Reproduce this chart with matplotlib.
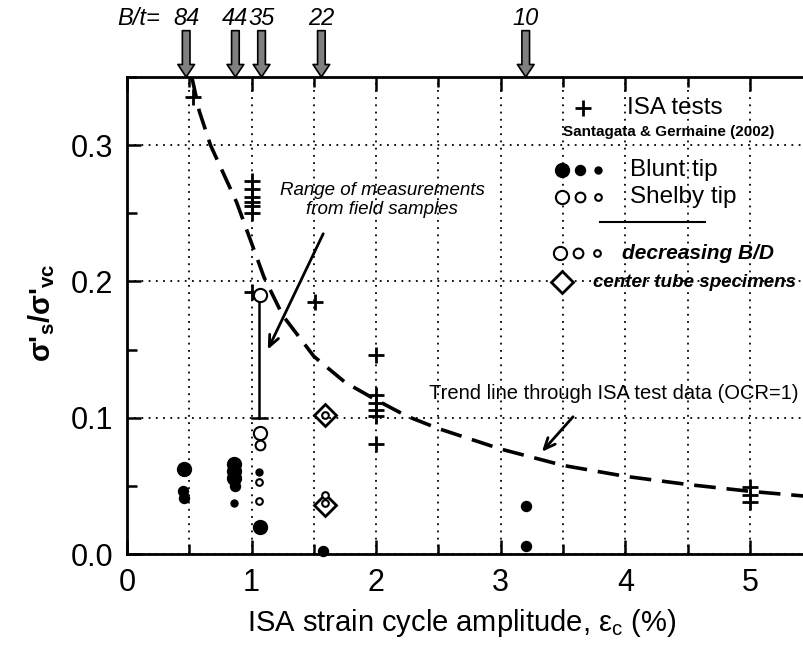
import matplotlib
matplotlib.use("Agg")
import matplotlib.pyplot as plt
from matplotlib.ticker import MultipleLocator, FormatStrFormatter

plt.rcParams['font.family'] = ['Liberation Sans', 'DejaVu Sans']
plt.rcParams['mathtext.fontset'] = 'custom'
plt.rcParams['mathtext.rm'] = 'Liberation Sans'
plt.rcParams['mathtext.it'] = 'Liberation Sans:italic'
plt.rcParams['mathtext.bf'] = 'Liberation Sans:bold'

# ISA tests (Santagata & Germaine 2002)
isa_x = [0.53, 1.0, 1.0, 1.0, 1.0, 1.0, 1.0, 1.0, 1.51,
         2.0, 2.0, 2.0, 2.0, 2.0, 2.0, 5.0, 5.0, 5.0]
isa_y = [0.335, 0.274, 0.268, 0.262, 0.258, 0.255, 0.250, 0.192, 0.185,
         0.146, 0.117, 0.111, 0.106, 0.101, 0.081, 0.049, 0.043, 0.038]

# Blunt tip (filled), size class L/M/S
blunt_x = [0.46, 0.45, 0.46, 0.86, 0.86, 0.86, 0.87, 0.86, 1.06, 1.07, 1.57, 3.2, 3.2]
blunt_y = [0.0625, 0.046, 0.041, 0.066, 0.061, 0.056, 0.050, 0.0375, 0.060, 0.020, 0.002, 0.035, 0.006]
blunt_size = ['L', 'M', 'M', 'L', 'L', 'L', 'M', 'S', 'S', 'L', 'M', 'M', 'M']

# Shelby tip (open)
shelby_x = [1.07, 1.07, 1.07, 1.06, 1.06, 1.59, 1.59, 1.59]
shelby_y = [0.19, 0.089, 0.080, 0.053, 0.039, 0.102, 0.043, 0.0375]
shelby_size = ['L', 'L', 'M', 'S', 'S', 'S', 'S', 'S']

# center tube specimens
center_x = [1.59, 1.59]
center_y = [0.102, 0.036]

# range of field measurements
range_x = 1.06
range_lo = 0.10
range_hi = 0.19

# trend line through ISA test data
trend_x = [0.52, 0.58, 0.67, 0.78, 0.88, 1.0, 1.1, 1.25, 1.5, 1.75, 2.0,
           2.25, 2.5, 3.0, 3.5, 4.0, 4.5, 5.0, 5.5, 6.0]
trend_y = [0.350, 0.325, 0.300, 0.278, 0.258, 0.228, 0.203, 0.175, 0.145, 0.126, 0.113,
           0.101, 0.092, 0.077, 0.065, 0.057, 0.051, 0.046, 0.042, 0.039]

# B/t markers along the top
bt_labels = ['84', '44', '35', '22', '10']
bt_x = [0.475, 0.87, 1.08, 1.56, 3.2]

filled_ms = {'L': 10, 'M': 7.2, 'S': 5}
open_ms = {'L': 9.5, 'M': 7, 'S': 4.8}

fig = plt.figure(figsize=(8.04, 6.58), dpi=100)
ax = fig.add_axes([127 / 804, 104 / 658, 747.6 / 804, 477 / 658])

ax.set_xlim(0, 6)
ax.set_ylim(0, 0.35)

# grid
ax.set_xticks([0, 1, 2, 3, 4, 5])
ax.xaxis.set_minor_locator(MultipleLocator(0.5))
ax.yaxis.set_major_locator(MultipleLocator(0.1))
ax.yaxis.set_minor_locator(MultipleLocator(0.05))
ax.yaxis.set_major_formatter(FormatStrFormatter('%.1f'))
ax.grid(which='major', ls=(0, (1, 3)), color='k', lw=1.3)
ax.grid(which='minor', axis='x', ls=(0, (1, 3)), color='k', lw=1.3)
ax.set_axisbelow(True)

ax.tick_params(which='both', direction='in', top=True, right=False, width=1.8)
ax.tick_params(which='major', length=10, labelsize=22, pad=10)
ax.tick_params(which='minor', length=7)
for sp in ax.spines.values():
    sp.set_linewidth(2)

# trend line
ax.plot(trend_x, trend_y, color='k', lw=2.6, ls=(0, (6, 3)), zorder=3)

# range line
ax.plot([range_x, range_x], [range_lo, range_hi], color='k', lw=1.8, zorder=3)
ax.plot([range_x - 0.06, range_x + 0.06], [range_lo, range_lo], color='k', lw=1.8, zorder=3)

# ISA tests
ax.plot(isa_x, isa_y, '+', color='k', ms=12, mew=2, zorder=4)

for x, y, s in zip(blunt_x, blunt_y, blunt_size):
    ax.plot(x, y, 'o', color='k', ms=filled_ms[s], zorder=4, clip_on=False)

for x, y, s in zip(shelby_x, shelby_y, shelby_size):
    ax.plot(x, y, 'o', mfc='white', mec='k', mew=1.5, ms=open_ms[s], zorder=5)

ax.plot(center_x, center_y, 'D', mfc='none', mec='k', mew=2, ms=11, zorder=4)

# B/t arrows along the top
ax.text(0.09, 0.393, 'B/t=', fontsize=17, style='italic', ha='center', va='center')
for lab, bx in zip(bt_labels, bt_x):
    ax.annotate('', xy=(bx, 0.35), xytext=(bx, 0.384), annotation_clip=False,
                arrowprops=dict(arrowstyle='simple,head_length=0.9,head_width=1.2,tail_width=0.55',
                                fc='0.5', ec='k', lw=1.2, shrinkA=0, shrinkB=0,
                                mutation_scale=10))
    ax.text(bx, 0.393, lab, fontsize=17, style='italic', ha='center', va='center')

# annotations
ax.text(2.05, 0.26, 'Range of measurements\nfrom field samples',
        fontsize=13.5, style='italic', ha='center', va='center', linespacing=1.15)
ax.annotate('', xy=(1.13, 0.150), xytext=(1.575, 0.235),
            arrowprops=dict(arrowstyle='->,head_length=0.8,head_width=0.35', lw=2, color='k',
                            shrinkA=0, shrinkB=0))
ax.text(3.91, 0.118, 'Trend line through ISA test data (OCR=1)', fontsize=14.5,
        ha='center', va='center')
ax.annotate('', xy=(3.33, 0.075), xytext=(3.58, 0.1007),
            arrowprops=dict(arrowstyle='->,head_length=0.8,head_width=0.35', lw=2, color='k',
                            shrinkA=0, shrinkB=0))

# hand-made legend (axes fraction)
tr = ax.transAxes
ax.plot(0.610, 0.935, '+', color='k', ms=12, mew=2, transform=tr)
ax.text(0.669, 0.935, 'ISA tests', fontsize=17.5, va='center', transform=tr)
ax.text(0.724, 0.885, 'Santagata & Germaine (2002)', fontsize=11, fontweight='bold',
        ha='center', va='center', transform=tr)
for lx, s in zip([0.582, 0.606, 0.630], ['L', 'M', 'S']):
    ax.plot(lx, 0.805, 'o', color='k', ms=filled_ms[s], transform=tr)
    ax.plot(lx, 0.748, 'o', mfc='white', mec='k', mew=1.5, ms=open_ms[s], transform=tr)
ax.text(0.673, 0.805, 'Blunt tip', fontsize=17.5, va='center', transform=tr)
ax.text(0.673, 0.748, 'Shelby tip', fontsize=17.5, va='center', transform=tr)
ax.plot([0.633, 0.773], [0.696, 0.696], color='k', lw=1.5, transform=tr)
for lx, s in zip([0.579, 0.603, 0.629], ['L', 'M', 'S']):
    ax.plot(lx, 0.631, 'o', mfc='white', mec='k', mew=1.5, ms=open_ms[s], transform=tr)
ax.text(0.662, 0.631, 'decreasing B/D', fontsize=15, style='italic', fontweight='bold',
        va='center', transform=tr)
ax.plot(0.582, 0.570, 'D', mfc='white', mec='k', mew=2, ms=11, transform=tr)
ax.text(0.623, 0.570, 'center tube specimens', fontsize=13.5, style='italic', fontweight='bold',
        va='center', transform=tr)

ax.set_xlabel(r'ISA strain cycle amplitude, $\mathrm{\varepsilon_c}$ (%)', fontsize=21)
ax.xaxis.set_label_coords(0.448, -0.112)
ax.set_ylabel("σ'$_\\mathbf{s}$/σ'$_\\mathbf{vc}$", fontsize=21, fontweight='bold')
ax.yaxis.set_label_coords(-0.094, 0.505)

fig.savefig('out.png', dpi=100)
